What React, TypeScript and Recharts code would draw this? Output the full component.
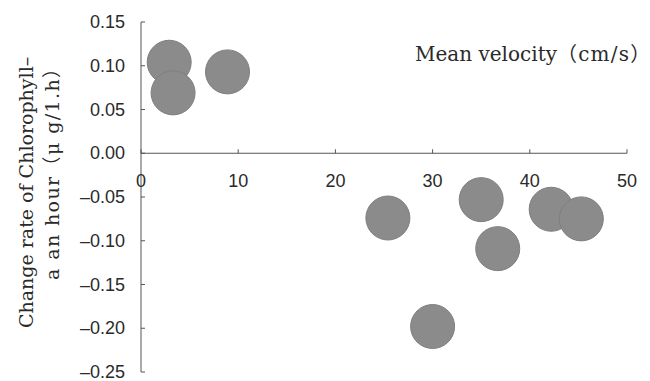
import React from "react";
import { ScatterChart, Scatter, XAxis, YAxis, ReferenceLine, ReferenceDot } from "recharts";

const velocity = [2.9, 3.3, 8.9, 25.4, 35.0, 36.7, 30.0, 42.2, 45.3];
const changeRate = [0.104, 0.069, 0.093, -0.074, -0.053, -0.109, -0.198, -0.064, -0.075];
const xTicks = [0, 10, 20, 30, 40, 50];
const yTicks = [0.15, 0.1, 0.05, 0, -0.05, -0.1, -0.15, -0.2, -0.25];
const xTitleMain = "Mean velocity";
const xTitleUnit = "\uff08cm/s\uff09";
const yTitle1 = "Change rate of Chlorophyll\u2013";
const yTitle2 = "a an hour\uff08\u03bc g/1.h\uff09";

const data = velocity.map((x, i) => ({ x, y: changeRate[i] }));

const AXIS = "#555";
const TXT = "#2a2a2a";
const SANS = "'Liberation Sans', Arial, sans-serif";
const SERIF = "'DejaVu Serif', 'Noto Sans CJK JP', serif";

const fmt = (v: number) => (v < 0 ? "\u2013" + Math.abs(v).toFixed(2) : v.toFixed(2));

const YTick = (p: any) => {
  const v = p.payload.value;
  return (
    <g>
      <line x1={p.x + 16} y1={p.y} x2={p.x + 20} y2={p.y} stroke={AXIS} strokeWidth={1} />
      <text x={p.x} y={p.y} dy={6} textAnchor="end" fontFamily={SANS} fontSize={18} fill={TXT}>
        {fmt(v)}
      </text>
    </g>
  );
};

const XTickShape = (label: string) => (p: any) => (
  <g>
    <line x1={p.cx} y1={p.cy} x2={p.cx} y2={p.cy - 4} stroke={AXIS} strokeWidth={1} />
    <text x={p.cx} y={p.cy + 34} textAnchor="middle" fontFamily={SANS} fontSize={18} fill={TXT}>
      {label}
    </text>
  </g>
);

const Dot = (p: any) => (
  <circle cx={p.cx} cy={p.cy} r={22} fill="#8b8b8b" stroke="#7f7f7f" strokeWidth={1} />
);

export default function App() {
  return (
    <div style={{ position: "absolute", left: 0, top: 0, width: 650, height: 381, background: "#fff" }}>
      <ScatterChart width={650} height={381} margin={{ top: 22, right: 23, bottom: 9, left: 81 }}>
        <XAxis type="number" dataKey="x" domain={[0, 50]} ticks={xTicks} hide />
        <YAxis
          type="number"
          dataKey="y"
          domain={[-0.25, 0.15]}
          ticks={yTicks}
          width={60}
          tickSize={0}
          tickMargin={16}
          tickLine={false}
          axisLine={{ stroke: AXIS, strokeWidth: 1 }}
          tick={YTick}
          interval={0}
        />
        <ReferenceLine y={0} stroke={AXIS} strokeWidth={1} />
        {xTicks.map((t) => (
          <ReferenceDot key={t} x={t} y={0} r={0} shape={XTickShape(String(t))} ifOverflow="visible" />
        ))}
        <Scatter data={data} shape={Dot} isAnimationActive={false} />
        <text x={415} y={61} textAnchor="start" fontFamily={SERIF} fontSize={20} fill={TXT}>
          <tspan>{xTitleMain}</tspan>
          <tspan letterSpacing={1.2}>{xTitleUnit}</tspan>
        </text>
        <text transform="translate(33,328) rotate(-90)" textAnchor="start" fontFamily={SERIF} fontSize={19} fill={TXT}>
          {yTitle1}
        </text>
        <text transform="translate(59,280) rotate(-90)" textAnchor="start" fontFamily={SERIF} fontSize={19} letterSpacing={1.4} fill={TXT}>
          {yTitle2}
        </text>
      </ScatterChart>
    </div>
  );
}
